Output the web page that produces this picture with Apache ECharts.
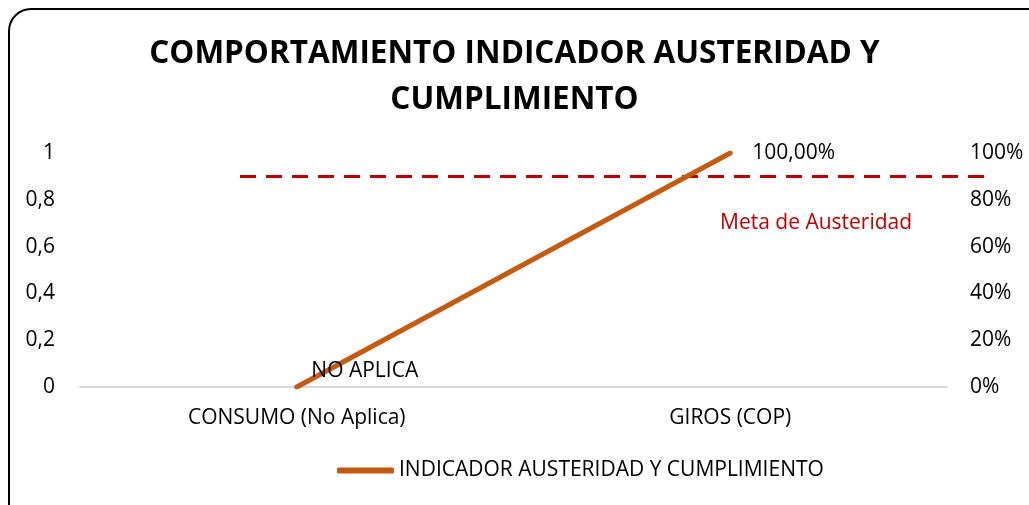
<!DOCTYPE html>
<html>
<head>
<meta charset="utf-8">
<script src="https://cdn.jsdelivr.net/npm/echarts@6/dist/echarts.min.js"></script>
<style>
  html, body { margin: 0; padding: 0; background: #fff; }
  #main { width: 1029px; height: 505px; }
</style>
</head>
<body>
<div id="main"></div>
<script>
// data
var categories = ['CONSUMO (No Aplica)', 'GIROS (COP)'];
var indicador = [0, 1];
var pointLabels = ['NO APLICA', '100,00%'];
var meta = 0.9;
var leftTicks = ['0', '0,2', '0,4', '0,6', '0,8', '1'];

var FONT = 'Open Sans';
var FS = 21;
var chart = echarts.init(document.getElementById('main'));

var option = {
  backgroundColor: '#ffffff',
  textStyle: { fontFamily: FONT },
  title: {
    text: 'COMPORTAMIENTO INDICADOR AUSTERIDAD Y\nCUMPLIMIENTO',
    left: 'center',
    top: 26,
    textStyle: { fontFamily: FONT, fontSize: 31.5, fontWeight: 'bold', color: '#000', lineHeight: 46 }
  },
  legend: {
    top: 455,
    left: 332,
    itemWidth: 57,
    itemHeight: 6,
    itemGap: 3,
    data: [{ name: 'INDICADOR AUSTERIDAD Y CUMPLIMIENTO', icon: 'roundRect' }],
    textStyle: { fontFamily: FONT, fontSize: FS, color: '#000' }
  },
  graphic: [{
    type: 'rect',
    shape: { x: 9, y: 9, width: 1040, height: 520, r: 22 },
    style: { fill: 'none', stroke: '#000', lineWidth: 2 },
    silent: true
  }, {
    type: 'text',
    left: 720,
    top: 213,
    style: { text: 'Meta de Austeridad', fill: '#c00000', font: FS + 'px "' + FONT + '"' }
  }],
  grid: [
    { left: 80, right: 82, top: 153, bottom: 118 },
    { left: 240, right: 44, top: 153, bottom: 118 }
  ],
  xAxis: [{
    type: 'category',
    gridIndex: 0,
    data: categories,
    boundaryGap: true,
    axisLine: { lineStyle: { color: '#d9d9d9', width: 2 } },
    axisTick: { show: false },
    axisLabel: { color: '#000', fontSize: FS, margin: 21, fontFamily: FONT }
  }, {
    type: 'value',
    gridIndex: 1,
    min: 0,
    max: 1,
    show: false
  }],
  yAxis: [{
    type: 'value',
    gridIndex: 0,
    min: 0,
    max: 1,
    interval: 0.2,
    splitLine: { show: false },
    axisLine: { show: false },
    axisLabel: {
      color: '#000', fontSize: FS, margin: 25, fontFamily: FONT,
      formatter: function (v) { return leftTicks[Math.round(v * 5)]; }
    }
  }, {
    type: 'value',
    gridIndex: 0,
    position: 'right',
    min: 0,
    max: 1,
    interval: 0.2,
    splitLine: { show: false },
    axisLine: { show: false },
    axisLabel: {
      color: '#000', fontSize: FS, margin: 23, align: 'left', fontFamily: FONT,
      formatter: function (v) { return Math.round(v * 100) + '%'; }
    }
  }, {
    type: 'value',
    gridIndex: 1,
    min: 0,
    max: 1,
    show: false
  }],
  series: [{
    name: 'INDICADOR AUSTERIDAD Y CUMPLIMIENTO',
    type: 'line',
    xAxisIndex: 0,
    yAxisIndex: 0,
    data: indicador.map(function (v, i) {
      return {
        value: v,
        label: i === 0
          ? { show: true, position: 'top', offset: [68, 0], formatter: pointLabels[i] }
          : { show: true, position: 'right', distance: 22, formatter: pointLabels[i] }
      };
    }),
    symbol: 'circle',
    symbolSize: 0,
    showSymbol: true,
    lineStyle: { color: '#c55a11', width: 5, cap: 'round' },
    itemStyle: { color: '#c55a11' },
    label: { color: '#000', fontSize: FS, fontFamily: FONT },
    z: 3
  }, {
    name: 'Meta',
    type: 'line',
    xAxisIndex: 1,
    yAxisIndex: 2,
    data: [[0, meta], [1, meta]],
    symbol: 'none',
    silent: true,
    lineStyle: { color: '#c00000', width: 3, type: [16, 10] },
    z: 2
  }]
};

chart.setOption(option);
</script>
</body>
</html>
